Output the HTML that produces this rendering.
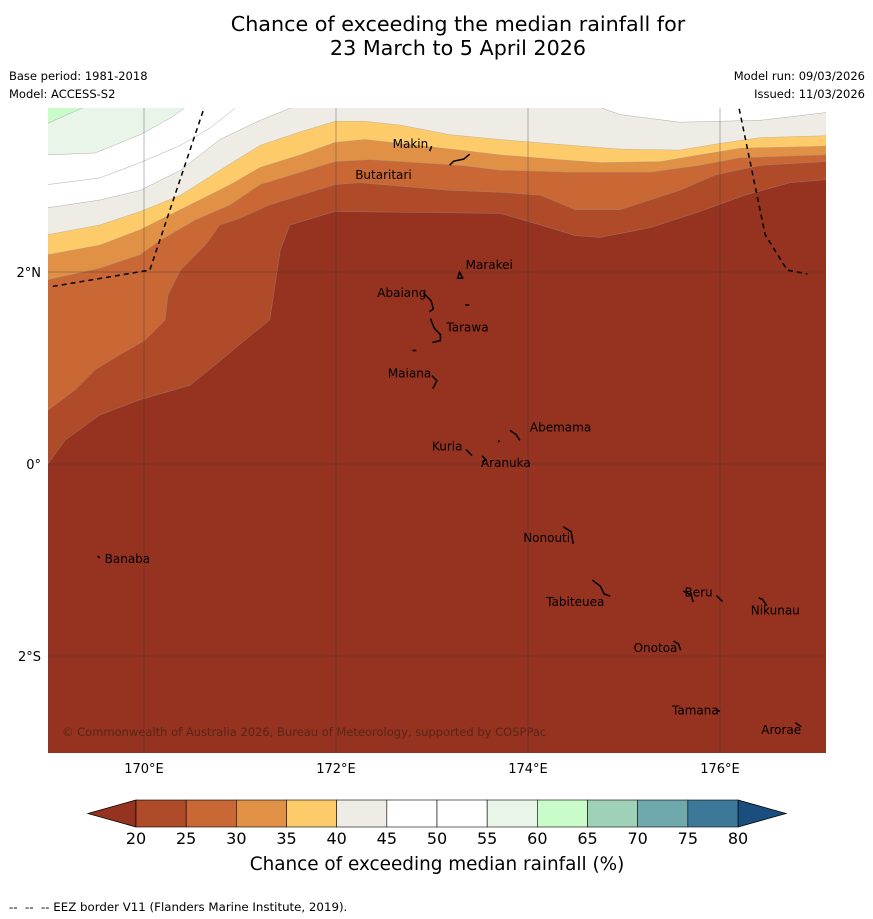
<!DOCTYPE html>
<html><head><meta charset="utf-8"><style>
body{margin:0;background:#fff;}
svg{display:block;font-family:"DejaVu Sans","Liberation Sans",sans-serif;}
</style></head><body>
<svg id="chart" width="873" height="919" viewBox="0 0 873 919" xmlns="http://www.w3.org/2000/svg">
<text x="458" y="31" font-size="20.7" text-anchor="middle">Chance of exceeding the median rainfall for</text>
<text x="458" y="55" font-size="20.7" text-anchor="middle">23 March to 5 April 2026</text>
<text x="9" y="80" font-size="11.5">Base period: 1981-2018</text>
<text x="9" y="98" font-size="11.5">Model: ACCESS-S2</text>
<text x="865" y="80" font-size="11.5" text-anchor="end">Model run: 09/03/2026</text>
<text x="865" y="98" font-size="11.5" text-anchor="end">Issued: 11/03/2026</text>
<defs><clipPath id="mapclip"><rect x="48" y="108" width="778" height="645"/></clipPath></defs>
<g id="map" clip-path="url(#mapclip)"></g>
<g id="axes"></g>
<g id="cbar"></g>
<text x="437" y="870" font-size="18.4" text-anchor="middle">Chance of exceeding median rainfall (%)</text>
<text x="9" y="911" font-size="11.8" xml:space="preserve">--  --  -- EEZ border V11 (Flanders Marine Institute, 2019).</text>
</svg>
<script>
const levels=[20,25,30,35,40,45,50,55,60,65,70,75,80];
const levelColors=["#b04b29","#c96735","#e09145","#fdcb6a","#efebe5","#ffffff","#ffffff","#e8f5e8","#c9fcc9","#9fd1b9","#6fa9ad","#3e7898"];
const underColor="#963220", overColor="#1a4e7e";
const lonTicks=[170,172,174,176];
const lonTickLabels=["170°E","172°E","174°E","176°E"];
const latTicks=[2,0,-2];
const latTickLabels=["2°N","0°","2°S"];
const c20=[[169.00,0.00],[169.18,0.25],[169.54,0.51],[169.96,0.67],[170.48,0.82],[170.74,1.03],[171.05,1.29],[171.31,1.50],[171.42,2.23],[171.52,2.49],[171.99,2.63],[173.71,2.61],[174.13,2.49],[174.49,2.38],[174.75,2.36],[175.27,2.46],[175.79,2.63],[176.26,2.80],[176.73,2.93],[177.10,2.96]];
const c25=[[169.00,0.56],[169.28,0.77],[169.49,0.98],[169.75,1.14],[170.01,1.29],[170.22,1.50],[170.25,1.76],[170.38,2.02],[170.64,2.28],[170.79,2.49],[171.00,2.56],[171.31,2.70],[171.63,2.80],[171.99,2.91],[172.25,2.93],[173.19,2.85],[173.71,2.83],[174.13,2.80],[174.49,2.65],[174.96,2.65],[175.58,2.85],[175.95,3.01],[176.42,3.11],[177.10,3.15]];
const c30=[[169.00,1.92],[169.54,2.04],[169.96,2.18],[170.17,2.33],[170.53,2.54],[170.90,2.70],[171.21,2.91],[171.63,3.04],[171.99,3.15],[172.35,3.17],[173.29,3.11],[173.71,3.06],[174.44,3.04],[175.27,3.04],[175.79,3.11],[176.21,3.19],[177.10,3.22]];
const c35=[[169.00,2.18],[169.54,2.28],[169.96,2.44],[170.38,2.65],[170.90,2.91],[171.21,3.09],[171.63,3.22],[171.99,3.35],[172.30,3.38],[173.29,3.27],[173.71,3.22],[174.33,3.17],[174.75,3.14],[175.38,3.15],[175.79,3.22],[176.21,3.29],[177.10,3.31]];
const c40=[[169.00,2.39],[169.54,2.49],[169.96,2.63],[170.38,2.80],[170.79,3.06],[171.21,3.32],[171.63,3.46],[171.99,3.57],[172.30,3.57],[172.67,3.53],[173.19,3.43],[173.71,3.38],[174.44,3.32],[174.96,3.28],[175.58,3.27],[176.00,3.34],[176.42,3.40],[177.10,3.42]];
const c45a=[[169.00,2.67],[169.54,2.75],[169.96,2.85],[170.38,3.06],[170.79,3.38],[171.21,3.58],[171.63,3.75]];
const c45b=[[174.65,3.75],[174.96,3.64],[175.58,3.56],[176.42,3.58],[177.10,3.66]];
const c50=[[169.00,2.91],[169.54,2.98],[169.96,3.14],[170.38,3.32],[170.69,3.50],[171.00,3.75]];
const c55=[[169.00,3.22],[169.49,3.24],[169.96,3.43],[170.27,3.60],[170.48,3.75]];
const c60=[[169.00,3.55],[169.45,3.75]];
const eezW=[[169.05,1.85],[170.06,2.02],[170.64,3.75]];
const eezE=[[176.20,3.70],[176.47,2.39],[176.70,2.02],[176.91,1.98]];
const islandNames=["Makin","Butaritari","Marakei","Abaiang","Tarawa","Maiana","Abemama","Kuria","Aranuka","Nonouti","Banaba","Beru","Tabiteuea","Nikunau","Onotoa","Tamana","Arorae"];
const islandLon=[172.59,172.20,173.35,172.43,173.15,172.54,174.02,173.00,173.51,173.95,169.59,175.63,174.19,176.32,175.10,175.50,176.43];
const islandLat=[3.29,2.97,2.03,1.74,1.38,0.90,0.34,0.14,-0.03,-0.81,-1.03,-1.38,-1.48,-1.57,-1.96,-2.61,-2.81];
const islandShapes=["M37,-2 l2,-5 M38,8 l-6,5 l-10,2 l-4,4","","M-8,4 l2,-6 l3,6 z","M46,-9 l8,8 l2,8 l-4,3 M36,-7 l4,0","M-16,-18 l4,10 l6,6 l0,6 l-8,2 M-20,8 l4,0","M44,-7 l5,5 l-4,8","M-20,-6 l6,4 l4,6 M-22,1 l2,0","M34,-6 l6,6","M1,-16 l4,4 l-4,2","M40,-20 l8,5 l2,12","M-7,-12 l2,2","M32,-6 l6,6","M46,-31 l8,6 l4,8 l6,2 M73,-5 l8,4 l2,7","M8,-22 l4,2 l4,6","M40,-16 l5,3 l2,6","M44,-10 l4,2","M34,-16 l6,4"];
const NS="http://www.w3.org/2000/svg";
const X0=48,X1=826,Y0=108,Y1=753;
function xS(lon){return 144+(lon-170)*96;}
function yS(lat){return 464-lat*96;}
function pts(arr){return arr.map(p=>xS(p[0]).toFixed(1)+","+yS(p[1]).toFixed(1)).join(" ");}
function mk(tag,attrs,parent){const e=document.createElementNS(NS,tag);for(const k in attrs)e.setAttribute(k,attrs[k]);parent.appendChild(e);return e;}
const map=document.getElementById("map");
let e=mk("rect",{x:X0,y:Y0,width:X1-X0,height:Y1-Y0,fill:underColor},map);


const fills=[[c20,0],[c25,1],[c30,2],[c35,3],[c40,4]];
fills.forEach(([c,i])=>{
  const poly=pts(c)+" "+xS(177.2)+","+(Y0-5)+" "+xS(168.9)+","+(Y0-5);
  const p=mk("polygon",{points:poly,fill:levelColors[i],stroke:"#999",'stroke-width':0.3},map);
  
  
});
[[c45a,"L"],[c45b,"R"]].forEach(([c,s])=>{
  const corner=s==="L"?[168.9,3.8]:[177.2,3.8];
  const p=mk("polygon",{points:pts(c)+" "+xS(corner[0])+","+yS(corner[1]),fill:levelColors[5],stroke:"#999",'stroke-width':0.4},map);
  
  
});
e=mk("polyline",{points:pts(c50),fill:"none",stroke:"#aaa",'stroke-width':0.5},map);


e=mk("polygon",{points:pts(c55)+" "+xS(168.9)+","+yS(3.8),fill:levelColors[7],stroke:"#999",'stroke-width':0.4},map);


e=mk("polygon",{points:pts(c60)+" "+xS(168.9)+","+yS(3.8),fill:levelColors[8],stroke:"#999",'stroke-width':0.4},map);


lonTicks.forEach(l=>{const g=mk("line",{x1:xS(l),x2:xS(l),y1:Y0,y2:Y1,stroke:"#333",'stroke-width':0.5,'stroke-opacity':0.7},map);

});
latTicks.forEach(l=>{const g=mk("line",{x1:X0,x2:X1,y1:yS(l),y2:yS(l),stroke:"#333",'stroke-width':0.5,'stroke-opacity':0.7},map);

});
[eezW,eezE].forEach(c=>{const g=mk("polyline",{points:pts(c),fill:"none",stroke:"#000",'stroke-width':1.5,'stroke-dasharray':"5,4"},map);

});
islandNames.forEach((n,i)=>{
  const x=xS(islandLon[i]),y=yS(islandLat[i]);
  if(islandShapes[i]){const s=mk("path",{d:"M"+x+","+(y+5)+" "+islandShapes[i].replace(/^M/,"m").replace(/ M/g," m"),fill:"none",stroke:"#000",'stroke-width':1.5},map);
  
  }
  const t=mk("text",{x:x,y:y,'font-size':12,fill:"#000"},map);t.textContent=n;
  
  
});
e=mk("text",{x:62,y:736,'font-size':11.5,fill:"#5a2516"},map);e.textContent="© Commonwealth of Australia 2026, Bureau of Meteorology, supported by COSPPac";


const axes=document.getElementById("axes");
lonTicks.forEach((l,i)=>{const t=mk("text",{x:xS(l),y:773,'font-size':13,'text-anchor':"middle"},axes);t.textContent=lonTickLabels[i];

});
latTicks.forEach((l,i)=>{const t=mk("text",{x:41,y:yS(l)+5,'font-size':13,'text-anchor':"end"},axes);t.textContent=latTickLabels[i];

});
const cb=document.getElementById("cbar");
const CB0=136,CB1=738,CBY=800,CBH=27;
function cx(v){return CB0+(v-levels[0])/(levels[levels.length-1]-levels[0])*(CB1-CB0);}
e=mk("polygon",{points:`${CB0},${CBY} ${CB0},${CBY+CBH} 88,${CBY+CBH/2}`,fill:underColor,stroke:"#000",'stroke-width':0.8},cb);


e=mk("polygon",{points:`${CB1},${CBY} ${CB1},${CBY+CBH} 786,${CBY+CBH/2}`,fill:overColor,stroke:"#000",'stroke-width':0.8},cb);


levelColors.forEach((c,i)=>{const r=mk("rect",{x:cx(levels[i]),y:CBY,width:cx(levels[i+1])-cx(levels[i]),height:CBH,fill:c,stroke:"#000",'stroke-width':0.6},cb);

});
levels.forEach(l=>{const t=mk("text",{x:cx(l),y:844,'font-size':16,'text-anchor':"middle"},cb);t.textContent=l;

});
</script>
</body></html>
